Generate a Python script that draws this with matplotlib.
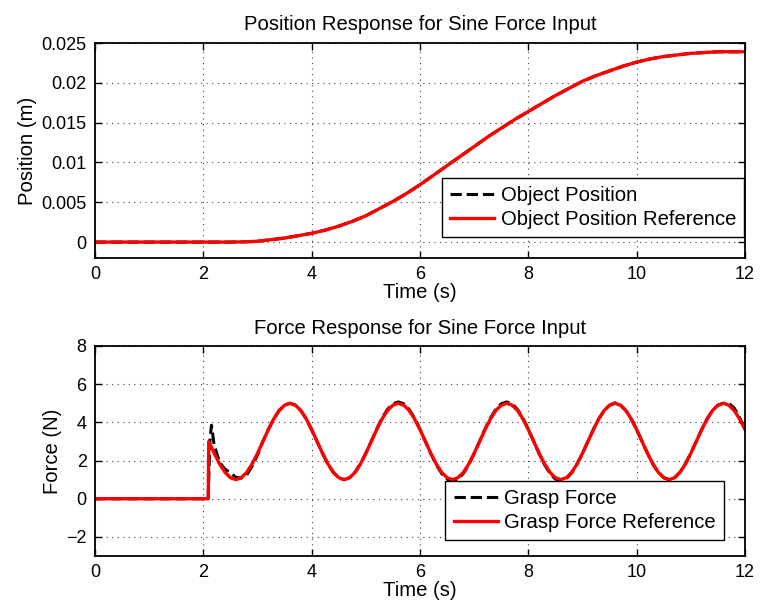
import numpy as np
import matplotlib
matplotlib.use('Agg')
import matplotlib.pyplot as plt

plt.rcParams['font.family'] = ['Liberation Sans', 'DejaVu Sans']

# Position response
pos_time = [0, 0.5, 1, 1.5, 2, 2.5, 2.75, 3, 3.25, 3.5, 3.75, 4, 4.25, 4.5, 4.75,
            5, 5.25, 5.5, 5.75, 6, 6.25, 6.5, 6.75, 7, 7.25, 7.5, 7.75, 8, 8.25,
            8.5, 8.75, 9, 9.25, 9.5, 9.75, 10, 10.25, 10.5, 10.75, 11, 11.25,
            11.5, 11.75, 12]
pos_ref = [0, 0, 0, 0, 0, 0, 0.00003, 0.0001, 0.0003, 0.0005, 0.0008, 0.0011,
           0.0015, 0.0020, 0.0026, 0.0033, 0.0042, 0.0051, 0.0061, 0.0072,
           0.0084, 0.0096, 0.0108, 0.0120, 0.0132, 0.0143, 0.0154, 0.0164,
           0.0174, 0.0184, 0.0193, 0.0202, 0.0209, 0.0215, 0.0221, 0.0226,
           0.0230, 0.0233, 0.0235, 0.0237, 0.0238, 0.0239, 0.0239, 0.0239]
pos_obj = [0, 0, 0, 0, 0, 0, 0.00003, 0.0001, 0.0003, 0.0005, 0.0008, 0.0011,
           0.0015, 0.0020, 0.0026, 0.0033, 0.0042, 0.0051, 0.0061, 0.0072,
           0.0084, 0.0096, 0.0108, 0.0120, 0.0132, 0.0143, 0.0154, 0.0164,
           0.0174, 0.0184, 0.0193, 0.0202, 0.0209, 0.0215, 0.0221, 0.0226,
           0.0230, 0.0233, 0.0235, 0.0237, 0.0238, 0.0239, 0.0239, 0.0239]

# Force response (0.1 s samples from 2.1 s to 12.0 s)
force_time = [0, 2.09] + [round(2.1 + 0.1 * k, 2) for k in range(100)]
force_ref = [0, 0,
             3.00, 2.38, 1.82, 1.38, 1.10, 1.00, 1.10, 1.38, 1.82, 2.38,
             3.00, 3.62, 4.18, 4.62, 4.90, 5.00, 4.90, 4.62, 4.18, 3.62,
             3.00, 2.38, 1.82, 1.38, 1.10, 1.00, 1.10, 1.38, 1.82, 2.38,
             3.00, 3.62, 4.18, 4.62, 4.90, 5.00, 4.90, 4.62, 4.18, 3.62,
             3.00, 2.38, 1.82, 1.38, 1.10, 1.00, 1.10, 1.38, 1.82, 2.38,
             3.00, 3.62, 4.18, 4.62, 4.90, 5.00, 4.90, 4.62, 4.18, 3.62,
             3.00, 2.38, 1.82, 1.38, 1.10, 1.00, 1.10, 1.38, 1.82, 2.38,
             3.00, 3.62, 4.18, 4.62, 4.90, 5.00, 4.90, 4.62, 4.18, 3.62,
             3.00, 2.38, 1.82, 1.38, 1.10, 1.00, 1.10, 1.38, 1.82, 2.38,
             3.00, 3.62, 4.18, 4.62, 4.90, 5.00, 4.90, 4.62, 4.18, 3.62]

grasp_time = [0, 2.09, 2.12, 2.15, 2.2, 2.3, 2.4, 2.5, 2.6, 2.7, 2.8, 2.9, 3.0] + \
             [round(3.1 + 0.1 * k, 2) for k in range(90)]
grasp_force = [0, 0, 3.00, 3.85, 2.80, 1.90, 1.55, 1.35, 1.12, 1.08, 1.25, 1.70, 2.30,
               3.00, 3.62, 4.18, 4.62, 4.90, 5.00, 4.90, 4.62, 4.18, 3.62,
               3.00, 2.38, 1.82, 1.38, 1.10, 1.00, 1.10, 1.38, 1.82, 2.38,
               3.00, 3.64, 4.22, 4.68, 4.97, 5.07, 4.97, 4.68, 4.22, 3.64,
               3.00, 2.36, 1.78, 1.32, 1.03, 0.93, 1.03, 1.32, 1.78, 2.36,
               3.00, 3.64, 4.22, 4.68, 4.97, 5.07, 4.97, 4.68, 4.22, 3.64,
               3.00, 2.36, 1.78, 1.32, 1.03, 0.95, 1.05, 1.35, 1.82, 2.38,
               3.00, 3.62, 4.18, 4.62, 4.90, 5.02, 4.92, 4.62, 4.18, 3.62,
               3.00, 2.38, 1.82, 1.38, 1.10, 1.00, 1.10, 1.38, 1.82, 2.38,
               3.00, 3.62, 4.18, 4.62, 4.90, 5.00, 5.00, 4.75, 4.25, 3.65]

fs_tick = 13
fs = 14.6
fig = plt.figure(figsize=(7.62, 6.11), dpi=100)
ax1 = fig.add_axes([95 / 762, 1 - 258 / 611, 650 / 762, 215 / 611])
ax2 = fig.add_axes([95 / 762, 1 - 556 / 611, 650 / 762, 210 / 611])


def style(ax):
    ax.grid(True, linestyle=(0, (1, 4)), color='#444444', linewidth=0.8)
    ax.tick_params(direction='in', top=True, right=True, length=5, width=1,
                   labelsize=fs_tick, pad=6)
    for s in ax.spines.values():
        s.set_linewidth(1.3)
    ax.set_xlim(0, 12)
    ax.set_xticks([0, 2, 4, 6, 8, 10, 12])
    ax.set_xlabel('Time (s)', fontsize=fs, labelpad=0)


def add_legend(ax, anchor):
    leg = ax.legend(loc='lower right', bbox_to_anchor=anchor, fontsize=fs,
                    fancybox=False, edgecolor='black', framealpha=1,
                    handlelength=2.2, borderpad=0.4, labelspacing=0.25,
                    handletextpad=0.3, borderaxespad=0)
    leg.get_frame().set_linewidth(1.0)
    # a bit of extra room on the right, like the original box
    leg._legend_box.sep = 0
    return leg


ax1.plot(pos_time, pos_obj, 'k--', lw=2.2, label='Object Position')
ax1.plot(pos_time, pos_ref, color='red', lw=2.4, label='Object Position Reference')
style(ax1)
ax1.set_ylim(-0.002, 0.025)
ax1.set_yticks([0, 0.005, 0.01, 0.015, 0.02, 0.025])
ax1.set_yticklabels(['0', '0.005', '0.01', '0.015', '0.02', '0.025'])
ax1.set_ylabel('Position (m)', fontsize=fs, labelpad=3)
ax1.set_title('Position Response for Sine Force Input', fontsize=fs, pad=9)
add_legend(ax1, (0.9985, 0.0977))

ax2.plot(grasp_time, grasp_force, 'k--', lw=2.2, label='Grasp Force')
ax2.plot(force_time, force_ref, color='red', lw=2.4, label='Grasp Force Reference')
style(ax2)
ax2.set_ylim(-3, 8)
ax2.set_yticks([-2, 0, 2, 4, 6, 8])
ax2.set_yticklabels(['\u22122', '0', '2', '4', '6', '8'])
ax2.set_ylabel('Force (N)', fontsize=fs, labelpad=3)
ax2.set_title('Force Response for Sine Force Input', fontsize=fs, pad=9)
add_legend(ax2, (0.9677, 0.076))

fig.savefig('out.png', dpi=100)
